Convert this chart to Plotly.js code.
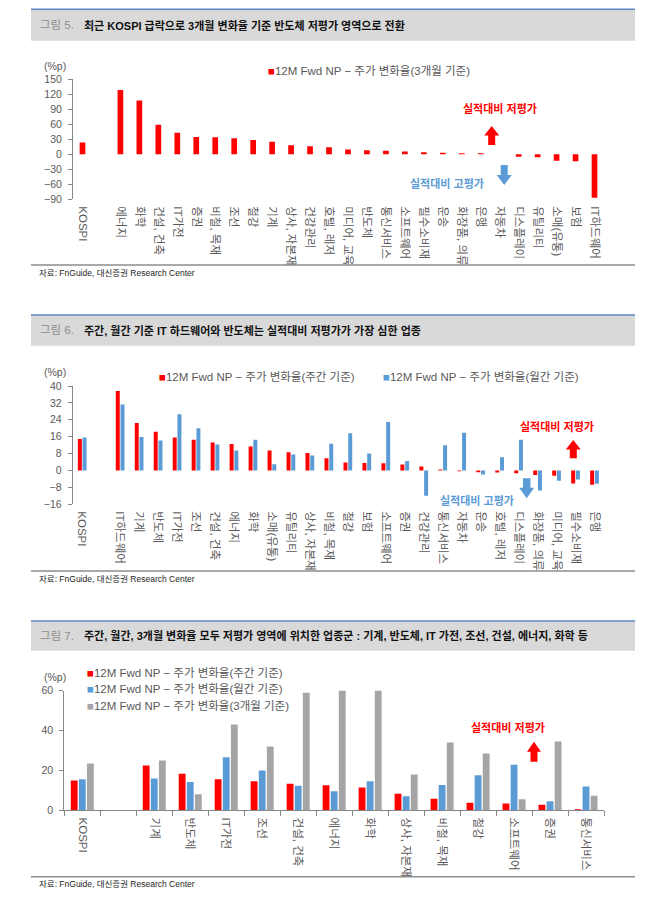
<!DOCTYPE html>
<html>
<head>
<meta charset="utf-8">
<script src="https://cdn.plot.ly/plotly-3.0.1.min.js"></script>
<style>
  html, body { margin: 0; padding: 0; background: #fff; }
  #chart { width: 672px; height: 897px; }
</style>
</head>
<body>
<div id="chart"></div>
<script>
// ---- 그림 5: 3개월 기준 ----
const cats1 = ['KOSPI', ' ', '에너지', '화학', '건설, 건축', 'IT가전', '증권', '비철, 목재', '조선', '철강',
  '기계', '상사, 자본재', '건강관리', '호텔, 레저', '미디어, 교육', '반도체', '통신서비스', '소프트웨어',
  '필수소비재', '운송', '화장품, 의류', '은행', '자동차', '디스플레이', '유틸리티', '소매(유통)', '보험', 'IT하드웨어'];
const m3_1 = [23.5, null, 128.5, 107.5, 59, 43, 34.5, 34, 32, 28.5,
  25, 18, 16, 14, 9.5, 8.1, 7.3, 5.6,
  4, 3.3, 2, 2, 0.2, -4.7, -6, -13, -14, -86.7];

// ---- 그림 6: 주간 / 월간 기준 ----
const cats2 = ['KOSPI', ' ', 'IT하드웨어', '기계', '반도체', 'IT가전', '조선', '건설, 건축', '에너지', '화학',
  '소매(유통)', '유틸리티', '상사, 자본재', '비철, 목재', '철강', '보험', '소프트웨어', '증권', '건강관리',
  '통신서비스', '자동차', '운송', '호텔, 레저', '디스플레이', '화장품, 의류', '미디어, 교육', '필수소비재', '은행'];
const wk2 = [14.9, null, 37.6, 22.5, 18.3, 15.6, 14.6, 13.3, 12.6, 11.4,
  9.5, 8.6, 8.3, 5.8, 3.8, 3.6, 3.4, 2.8, 1.9,
  0.5, -0.3, -0.8, -1.0, -1.3, -2.1, -2.5, -6.2, -6.8];
const mo2 = [15.6, null, 31.3, 15.9, 14.2, 26.6, 20.0, 12.3, 9.5, 14.6,
  3.0, 7.6, 7.1, 12.7, 17.6, 8.1, 22.9, 4.5, -11.9,
  12.0, 17.9, -1.9, 6.3, 14.6, -9.5, -4.9, -4.3, -6.3];

// ---- 그림 7: 주간 / 월간 / 3개월 기준 ----
const cats3 = ['KOSPI', ' ', '기계', '반도체', 'IT가전', '조선', '건설, 건축', '에너지', '화학',
  '상사, 자본재', '비철, 목재', '철강', '소프트웨어', '증권', '통신서비스'];
const wk3 = [14.9, null, 22.5, 18.3, 15.6, 14.6, 13.3, 12.6, 11.4, 8.3, 5.8, 3.8, 3.4, 2.8, 0.5];
const mo3 = [15.6, null, 15.9, 14.2, 26.6, 20.0, 12.3, 9.5, 14.6, 7.1, 12.7, 17.6, 22.9, 4.5, 12.0];
const m3_3 = [23.5, null, 25, 8.1, 43, 32, 59, 128.5, 107.5, 18, 34, 28.5, 5.6, 34.5, 7.3];

const nameWk = '12M Fwd NP − 주가 변화율(주간 기준)';
const nameMo = '12M Fwd NP − 주가 변화율(월간 기준)';
const name3m = '12M Fwd NP − 주가 변화율(3개월 기준)';

// ---- styling ----
const RED = '#FF0000', BLUE = '#5B9BD5', GRAY = '#A5A5A5';
const AXIS = '#868686', TXT = '#595959';
const FONT = 'Liberation Sans, Noto Sans CJK KR, sans-serif';
const W = 672, H = 897;
const fx = p => p / W;          // page px -> paper x
const fy = p => 1 - p / H;      // page px -> paper y

// plot boxes in page pixels: [left, top, right, bottom]
const box1 = [73, 79.3, 604, 199.3], yr1 = [-90, 150];
const box2 = [72.7, 386, 604, 504.3], yr2 = [-16, 40];
const box3 = [64.3, 690.7, 604, 810.3], yr3 = [0, 60];

const xDom = b => [fx(b[0]), fx(b[2])];
const yDom = b => [fy(b[3]), fy(b[1])];
function zeroPos(b, r) {
  const d = yDom(b);
  return d[0] + (0 - r[0]) / (r[1] - r[0]) * (d[1] - d[0]);
}

const valFont = { family: FONT, size: 10.5, color: TXT };
const catFont = { family: FONT, size: 11.5, color: TXT };

function catAxis(b, cats, anchor, extra) {
  return Object.assign({
    domain: xDom(b), anchor: anchor, type: 'category',
    categoryorder: 'array', categoryarray: cats,
    range: [-0.5, cats.length - 0.5],
    tickangle: 90, ticks: '', showline: false, showgrid: false, zeroline: false,
    tickfont: catFont, ticklabelstandoff: 6, fixedrange: true
  }, extra || {});
}
function valAxis(b, r, dtick, anchor) {
  return {
    domain: yDom(b), anchor: anchor, range: r, tickmode: 'linear', tick0: 0, dtick: dtick,
    showline: true, linecolor: AXIS, linewidth: 1, ticks: 'outside', ticklen: 4, tickcolor: AXIS,
    showgrid: false, zeroline: false, tickfont: valFont, ticklabelstandoff: 4, fixedrange: true
  };
}
// zero line with category-boundary tick marks
function zeroAxis(b, r, n, over) {
  return {
    overlaying: over, anchor: 'free', position: zeroPos(b, r), type: 'linear',
    range: [-0.5, n - 0.5], tickmode: 'linear', tick0: -0.5, dtick: 1,
    ticks: 'outside', ticklen: 4, tickcolor: AXIS, showticklabels: false,
    showline: true, linecolor: AXIS, linewidth: 1, showgrid: false, zeroline: false, fixedrange: true
  };
}

const traces = [
  { type: 'bar', name: name3m, x: cats1, y: m3_1, xaxis: 'x', yaxis: 'y',
    marker: { color: RED }, width: 0.3, offset: -0.15 },

  { type: 'bar', name: nameWk, x: cats2, y: wk2, xaxis: 'x2', yaxis: 'y2',
    marker: { color: RED }, width: 0.21, offset: -0.23 },
  { type: 'bar', name: nameMo, x: cats2, y: mo2, xaxis: 'x2', yaxis: 'y2',
    marker: { color: BLUE }, width: 0.21, offset: 0.02 },

  { type: 'bar', name: nameWk, x: cats3, y: wk3, xaxis: 'x3', yaxis: 'y3',
    marker: { color: RED }, width: 0.19, offset: -0.32 },
  { type: 'bar', name: nameMo, x: cats3, y: mo3, xaxis: 'x3', yaxis: 'y3',
    marker: { color: BLUE }, width: 0.19, offset: -0.095 },
  { type: 'bar', name: name3m, x: cats3, y: m3_3, xaxis: 'x3', yaxis: 'y3',
    marker: { color: GRAY }, width: 0.19, offset: 0.13 }
];

// header band, title, footer rule and source for each figure
const heads = [
  { top: 9.3, bottom: 40.7, label: '그림 5.', title: '최근 KOSPI 급락으로 3개월 변화율 기준 반도체 저평가 영역으로 전환', rule: 265 },
  { top: 315, bottom: 345.7, label: '그림 6.', title: '주간, 월간 기준 IT 하드웨어와 반도체는 실적대비 저평가가 가장 심한 업종', rule: 571 },
  { top: 621, bottom: 650.7, label: '그림 7.', title: '주간, 월간, 3개월 변화율 모두 저평가 영역에 위치한 업종군 : 기계, 반도체, IT 가전, 조선, 건설, 에너지, 화학 등', rule: 876.7 }
];

const shapes = [];
const annotations = [];
heads.forEach(h => {
  shapes.push({ type: 'rect', xref: 'paper', yref: 'paper', x0: fx(31), x1: fx(635),
    y0: fy(h.bottom), y1: fy(h.top), fillcolor: '#D9D9D9', line: { width: 0 }, layer: 'below' });
  shapes.push({ type: 'line', xref: 'paper', yref: 'paper', x0: fx(31), x1: fx(635),
    y0: fy(h.top), y1: fy(h.top), line: { color: '#5B87C5', width: 1.5 } });
  shapes.push({ type: 'line', xref: 'paper', yref: 'paper', x0: fx(31), x1: fx(635),
    y0: fy(h.rule), y1: fy(h.rule), line: { color: '#8C8C8C', width: 1.5 } });
  const mid = (h.top + h.bottom) / 2;
  annotations.push({ xref: 'paper', yref: 'paper', x: fx(38), y: fy(mid), xanchor: 'left', yanchor: 'middle',
    text: h.label, showarrow: false, font: { family: FONT, size: 11.5, color: '#8C8C8C' } });
  annotations.push({ xref: 'paper', yref: 'paper', x: fx(82), y: fy(mid), xanchor: 'left', yanchor: 'middle',
    text: h.title, showarrow: false, font: { family: FONT, size: 11, color: '#111111', weight: 700 } });
  annotations.push({ xref: 'paper', yref: 'paper', x: fx(37), y: fy(h.rule + 7.5), xanchor: 'left', yanchor: 'middle',
    text: '자료: FnGuide, 대신증권 Research Center', showarrow: false,
    font: { family: FONT, size: 8.5, color: '#262626' } });
});

// unit labels
[66, 371.7, 676.7].forEach(y => {
  annotations.push({ xref: 'paper', yref: 'paper', x: fx(42), y: fy(y), xanchor: 'left', yanchor: 'middle',
    text: '(%p)', showarrow: false, font: valFont });
});

// series keys: coloured square followed by the series name
function key(x, y, color, text) {
  annotations.push({ xref: 'paper', yref: 'paper', x: fx(x), y: fy(y), xanchor: 'left', yanchor: 'middle',
    text: '<span style="color:' + color + '">■</span>' + text, showarrow: false,
    font: { family: FONT, size: 11.5, color: TXT } });
}
key(266, 71, RED, name3m);
key(157, 377, RED, nameWk);
key(381, 377, BLUE, nameMo);
key(85, 673, RED, nameWk);
key(85, 689.3, BLUE, nameMo);
key(85, 705.6, GRAY, name3m);

// call-out texts
function note(x, y, text, color) {
  annotations.push({ xref: 'paper', yref: 'paper', x: fx(x), y: fy(y), xanchor: 'center', yanchor: 'middle',
    text: text, showarrow: false, font: { family: FONT, size: 11, color: color, weight: 700 } });
}
note(500, 108.3, '실적대비 저평가', RED);
note(446.7, 183.3, '실적대비 고평가', BLUE);
note(556.7, 426.7, '실적대비 저평가', RED);
note(476.7, 500, '실적대비 고평가', BLUE);
note(508.3, 727.3, '실적대비 저평가', RED);

// block arrows: y0 = tail end, y1 = tip
function blockArrow(cx, y0, y1, headW, shaftW, headH, color) {
  const dir = y1 > y0 ? 1 : -1;
  const hb = y1 - dir * headH;
  const pts = [
    [cx - shaftW / 2, y0], [cx - shaftW / 2, hb], [cx - headW / 2, hb], [cx, y1],
    [cx + headW / 2, hb], [cx + shaftW / 2, hb], [cx + shaftW / 2, y0]
  ];
  const d = pts.map((p, i) => (i ? 'L' : 'M') + fx(p[0]).toFixed(5) + ',' + fy(p[1]).toFixed(5)).join(' ') + ' Z';
  shapes.push({ type: 'path', xref: 'paper', yref: 'paper', path: d, fillcolor: color, line: { width: 0 } });
}
blockArrow(491.7, 145, 126, 15, 7, 9.5, RED);
blockArrow(504.2, 165, 185, 15, 7, 10, BLUE);
blockArrow(573.3, 458.3, 440, 15, 7, 9.5, RED);
blockArrow(526.7, 478.3, 498.3, 15, 7.5, 10.5, BLUE);
blockArrow(534, 761.7, 741.7, 14, 7, 10, RED);

const layout = {
  width: W, height: H,
  margin: { l: 0, r: 0, t: 0, b: 0, pad: 0 },
  paper_bgcolor: '#FFFFFF', plot_bgcolor: 'rgba(0,0,0,0)',
  font: { family: FONT, color: TXT },
  barmode: 'group',
  showlegend: false,

  xaxis: catAxis(box1, cats1, 'y'),
  yaxis: valAxis(box1, yr1, 30, 'x'),
  xaxis4: zeroAxis(box1, yr1, cats1.length, 'x'),

  xaxis2: catAxis(box2, cats2, 'y2'),
  yaxis2: valAxis(box2, yr2, 8, 'x2'),
  xaxis5: zeroAxis(box2, yr2, cats2.length, 'x2'),

  xaxis3: catAxis(box3, cats3, 'y3', {
    ticks: 'outside', tickson: 'boundaries', ticklen: 5, tickcolor: AXIS,
    showline: true, linecolor: AXIS, linewidth: 1, ticklabelstandoff: 4
  }),
  yaxis3: valAxis(box3, yr3, 20, 'x3'),

  shapes: shapes,
  annotations: annotations
};

Plotly.newPlot('chart', traces, layout, { displayModeBar: false, staticPlot: true });
</script>
</body>
</html>
